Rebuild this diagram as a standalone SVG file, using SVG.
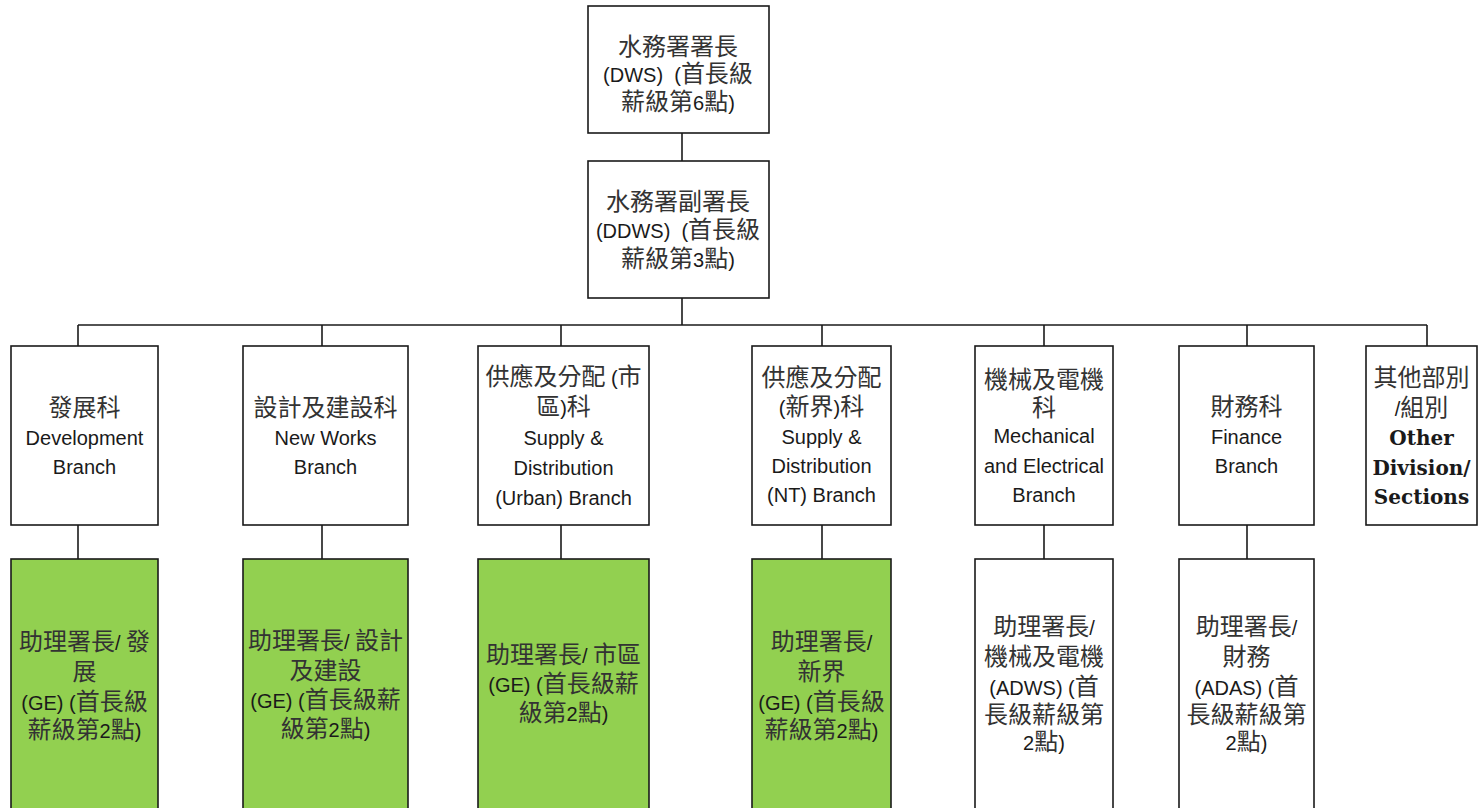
<svg xmlns="http://www.w3.org/2000/svg" width="1478" height="808" viewBox="0 0 1478 808">
<style>
.box{fill:#ffffff;stroke:#1a1a1a;stroke-width:1.6}
.g{fill:#92d050;stroke:#1a1a1a;stroke-width:1.6}
.ln{stroke:#1a1a1a;stroke-width:1.6;fill:none}
text{font-family:"Liberation Sans","Noto Sans CJK TC",sans-serif;font-size:20px;fill:#1a1a1a;text-anchor:middle}
.c{font-size:24px;fill:#333333}
.s{font-family:"DejaVu Serif","Noto Sans CJK TC",serif;font-weight:bold;font-size:20px}
</style>
<rect width="1478" height="808" fill="#ffffff"/>
<g id="connectors">
<line class="ln" x1="682" y1="133" x2="682" y2="161"/>
<line class="ln" x1="682" y1="298" x2="682" y2="325"/>
<line class="ln" x1="78" y1="325" x2="1427" y2="325"/>
<line class="ln" x1="78" y1="325" x2="78" y2="346"/>
<line class="ln" x1="322" y1="325" x2="322" y2="346"/>
<line class="ln" x1="561" y1="325" x2="561" y2="346"/>
<line class="ln" x1="822" y1="325" x2="822" y2="346"/>
<line class="ln" x1="1044" y1="325" x2="1044" y2="346"/>
<line class="ln" x1="1247" y1="325" x2="1247" y2="346"/>
<line class="ln" x1="1427" y1="325" x2="1427" y2="346"/>
<line class="ln" x1="78" y1="525" x2="78" y2="559"/>
<line class="ln" x1="322" y1="525" x2="322" y2="559"/>
<line class="ln" x1="561" y1="525" x2="561" y2="559"/>
<line class="ln" x1="822" y1="525" x2="822" y2="559"/>
<line class="ln" x1="1044" y1="525" x2="1044" y2="559"/>
<line class="ln" x1="1247" y1="525" x2="1247" y2="559"/>
</g>
<g id="dws">
<rect class="box" x="588" y="6" width="181" height="127"/>
<text x="678" y="55"><tspan class="c">水務署署長</tspan></text>
<text x="678" y="82">(DWS)&#160; (<tspan class="c">首長級</tspan></text>
<text x="678" y="110"><tspan class="c">薪級第</tspan>6<tspan class="c">點</tspan>)</text>
</g>
<g id="ddws">
<rect class="box" x="588" y="161" width="181" height="137"/>
<text x="678" y="210"><tspan class="c">水務署副署長</tspan></text>
<text x="678" y="238">(DDWS)&#160; (<tspan class="c">首長級</tspan></text>
<text x="678" y="267"><tspan class="c">薪級第</tspan>3<tspan class="c">點</tspan>)</text>
</g>
<g id="branch-dev">
<rect class="box" x="11" y="346" width="147" height="179"/>
<text x="84.5" y="416"><tspan class="c">發展科</tspan></text>
<text x="84.5" y="445">Development</text>
<text x="84.5" y="474">Branch</text>
</g>
<g id="branch-nw">
<rect class="box" x="243" y="346" width="165" height="179"/>
<text x="325.5" y="416"><tspan class="c">設計及建設科</tspan></text>
<text x="325.5" y="445">New Works</text>
<text x="325.5" y="474">Branch</text>
</g>
<g id="branch-sdu">
<rect class="box" x="478" y="346" width="171" height="179"/>
<text x="563.5" y="385"><tspan class="c">供應及分配</tspan> (<tspan class="c">市</tspan></text>
<text x="563.5" y="415"><tspan class="c">區</tspan>)<tspan class="c">科</tspan></text>
<text x="563.5" y="445">Supply &amp;</text>
<text x="563.5" y="475">Distribution</text>
<text x="563.5" y="505">(Urban) Branch</text>
</g>
<g id="branch-sdnt">
<rect class="box" x="752" y="346" width="139" height="179"/>
<text x="821.5" y="386"><tspan class="c">供應及分配</tspan></text>
<text x="821.5" y="415">(<tspan class="c">新界</tspan>)<tspan class="c">科</tspan></text>
<text x="821.5" y="444">Supply &amp;</text>
<text x="821.5" y="473">Distribution</text>
<text x="821.5" y="502">(NT) Branch</text>
</g>
<g id="branch-me">
<rect class="box" x="975" y="346" width="138" height="179"/>
<text x="1044" y="388"><tspan class="c">機械及電機</tspan></text>
<text x="1044" y="416"><tspan class="c">科</tspan></text>
<text x="1044" y="443">Mechanical</text>
<text x="1044" y="473">and Electrical</text>
<text x="1044" y="502">Branch</text>
</g>
<g id="branch-fin">
<rect class="box" x="1179" y="346" width="135" height="179"/>
<text x="1246.5" y="415"><tspan class="c">財務科</tspan></text>
<text x="1246.5" y="444">Finance</text>
<text x="1246.5" y="473">Branch</text>
</g>
<g id="branch-other">
<rect class="box" x="1366" y="346" width="111" height="179"/>
<text x="1421.5" y="386"><tspan class="c">其他部別</tspan></text>
<text x="1421.5" y="416">/<tspan class="c">組別</tspan></text>
<text class="s" x="1421.5" y="445">Other</text>
<text class="s" x="1421.5" y="475">Division/</text>
<text class="s" x="1421.5" y="504">Sections</text>
</g>
<g id="ge-dev">
<rect class="g" x="11" y="559" width="147" height="260"/>
<text x="84.5" y="650"><tspan class="c">助理署長</tspan>/ <tspan class="c">發</tspan></text>
<text x="84.5" y="680"><tspan class="c">展</tspan></text>
<text x="84.5" y="710">(GE) (<tspan class="c">首長級</tspan></text>
<text x="84.5" y="738"><tspan class="c">薪級第</tspan>2<tspan class="c">點</tspan>)</text>
</g>
<g id="ge-nw">
<rect class="g" x="243" y="559" width="165" height="260"/>
<text x="325.5" y="649"><tspan class="c">助理署長</tspan>/ <tspan class="c">設計</tspan></text>
<text x="325.5" y="679"><tspan class="c">及建設</tspan></text>
<text x="325.5" y="708">(GE) (<tspan class="c">首長級薪</tspan></text>
<text x="325.5" y="737"><tspan class="c">級第</tspan>2<tspan class="c">點</tspan>)</text>
</g>
<g id="ge-urban">
<rect class="g" x="478" y="559" width="171" height="260"/>
<text x="563.5" y="663"><tspan class="c">助理署長</tspan>/ <tspan class="c">市區</tspan></text>
<text x="563.5" y="692">(GE) (<tspan class="c">首長級薪</tspan></text>
<text x="563.5" y="721"><tspan class="c">級第</tspan>2<tspan class="c">點</tspan>)</text>
</g>
<g id="ge-nt">
<rect class="g" x="752" y="559" width="139" height="260"/>
<text x="821.5" y="650"><tspan class="c">助理署長</tspan>/</text>
<text x="821.5" y="680"><tspan class="c">新界</tspan></text>
<text x="821.5" y="710">(GE) (<tspan class="c">首長級</tspan></text>
<text x="821.5" y="738"><tspan class="c">薪級第</tspan>2<tspan class="c">點</tspan>)</text>
</g>
<g id="adws">
<rect class="box" x="975" y="559" width="138" height="260"/>
<text x="1044" y="635"><tspan class="c">助理署長</tspan>/</text>
<text x="1044" y="665"><tspan class="c">機械及電機</tspan></text>
<text x="1044" y="695">(ADWS) (<tspan class="c">首</tspan></text>
<text x="1044" y="723"><tspan class="c">長級薪級第</tspan></text>
<text x="1044" y="750">2<tspan class="c">點</tspan>)</text>
</g>
<g id="adas">
<rect class="box" x="1179" y="559" width="135" height="260"/>
<text x="1246.5" y="635"><tspan class="c">助理署長</tspan>/</text>
<text x="1246.5" y="665"><tspan class="c">財務</tspan></text>
<text x="1246.5" y="695">(ADAS) (<tspan class="c">首</tspan></text>
<text x="1246.5" y="723"><tspan class="c">長級薪級第</tspan></text>
<text x="1246.5" y="750">2<tspan class="c">點</tspan>)</text>
</g>
</svg>
